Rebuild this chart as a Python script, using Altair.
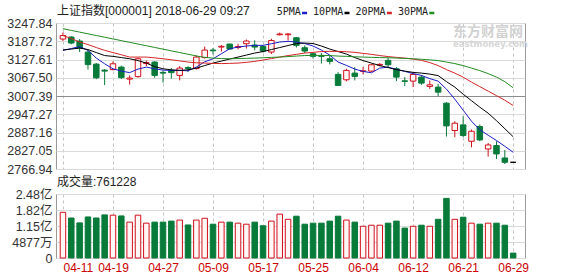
import json
import altair as alt
import pandas as pd

# ---------------- data ----------------
title_text = "上证指数[000001] 2018-06-29 09:27"
volume_caption = "成交量:761228"
watermark_cn = "东方财富网"
watermark_en = "eastmoney.com"

dates = ["04-11", "04-12", "04-13", "04-16", "04-17", "04-18", "04-19", "04-20", "04-23", "04-24",
         "04-25", "04-26", "04-27", "05-02", "05-03", "05-04", "05-07", "05-08", "05-09", "05-10",
         "05-11", "05-14", "05-15", "05-16", "05-17", "05-18", "05-21", "05-22", "05-23", "05-24",
         "05-25", "05-28", "05-29", "05-30", "05-31", "06-01", "06-04", "06-05", "06-06", "06-07",
         "06-08", "06-11", "06-12", "06-13", "06-14", "06-15", "06-19", "06-20", "06-21", "06-22",
         "06-25", "06-26", "06-27", "06-28", "06-29"]

opens = [3195.03, 3201.63, 3188.43, 3152.12, 3112.52, 3092.72, 3094.37, 3102.62, 3063.02, 3071.27,
         3114.17, 3119.12, 3085.13, 3091.07, 3075.23, 3100.97, 3097.67, 3133.97, 3158.72, 3168.63,
         3178.53, 3166.98, 3179.52, 3175.23, 3170.28, 3152.12, 3209.22, 3209.22, 3199.32, 3166.32,
         3146.51, 3139.91, 3130.01, 3078.53, 3060.71, 3082.82, 3088.43, 3089.42, 3109.22, 3124.73,
         3097.01, 3057.41, 3056.42, 3069.62, 3038.93, 3036.60, 2983.79, 2893.69, 2912.17, 2858.33,
         2906.89, 2832.96, 2844.19, 2803.26, 2789.06]
closes = [3206.58, 3181.83, 3165.33, 3110.87, 3067.31, 3089.42, 3113.51, 3067.97, 3066.32, 3130.01,
          3117.47, 3075.23, 3082.82, 3084.47, 3099.32, 3098.33, 3135.62, 3158.72, 3156.41, 3170.94,
          3162.02, 3170.28, 3188.43, 3168.63, 3155.42, 3190.08, 3211.53, 3211.53, 3174.24, 3155.42,
          3137.93, 3137.93, 3121.43, 3042.23, 3091.73, 3071.93, 3090.41, 3110.21, 3111.53, 3110.21,
          3069.62, 3055.43, 3078.53, 3049.82, 3044.21, 3020.10, 2908.87, 2917.78, 2877.19, 2891.38,
          2862.67, 2846.17, 2816.46, 2789.06, 2789.06]
highs = [3216.48, 3203.94, 3195.03, 3160.37, 3115.82, 3096.02, 3121.43, 3107.57, 3075.23, 3133.97,
         3124.07, 3122.42, 3091.07, 3099.32, 3105.92, 3105.92, 3141.23, 3170.28, 3165.33, 3175.23,
         3179.52, 3179.52, 3193.38, 3190.74, 3174.24, 3196.02, 3216.48, 3214.83, 3201.63, 3174.24,
         3152.12, 3148.82, 3141.23, 3086.12, 3097.01, 3102.62, 3102.62, 3113.51, 3115.82, 3133.31,
         3102.62, 3069.62, 3086.12, 3075.23, 3058.73, 3047.51, 2987.09, 2924.38, 2940.88, 2896.99,
         2913.49, 2852.77, 2858.33, 2829.66, 2789.06]
lows = [3188.43, 3177.54, 3152.12, 3094.37, 3063.02, 3043.22, 3091.73, 3063.02, 3044.87, 3067.97,
        3105.92, 3067.31, 3051.47, 3064.67, 3058.73, 3086.12, 3094.37, 3130.67, 3143.87, 3153.77,
        3160.37, 3161.03, 3163.68, 3157.73, 3150.47, 3145.52, 3206.58, 3190.08, 3166.98, 3148.82,
        3130.67, 3114.17, 3111.53, 3039.92, 3055.43, 3058.73, 3078.53, 3086.12, 3104.93, 3102.62,
        3056.42, 3039.92, 3036.60, 3044.21, 3031.00, 3006.90, 2873.89, 2871.58, 2871.58, 2838.57,
        2858.33, 2807.88, 2799.96, 2783.45, 2789.06]

# volume in 亿 (1e8)
volumes = [1.77, 1.55, 1.36, 1.59, 1.55, 1.67, 1.66, 1.63, 1.39, 1.66,
           1.35, 1.39, 1.39, 1.43, 1.47, 1.28, 1.47, 1.54, 1.31, 1.39,
           1.39, 1.35, 1.31, 1.39, 1.25, 1.43, 1.70, 1.50, 1.62, 1.31,
           1.35, 1.35, 1.43, 1.62, 1.47, 1.39, 1.23, 1.27, 1.27, 1.35,
           1.43, 1.16, 1.23, 1.27, 1.23, 1.50, 2.31, 1.50, 1.58, 1.35,
           1.31, 1.35, 1.35, 1.27, 0.19]

ma5 = [3157.73, 3163.67, 3170.28, 3157.73, 3132.32, 3113.51, 3097.00, 3089.41, 3084.46, 3096.01,
       3102.61, 3097.00, 3092.71, 3091.72, 3091.72, 3090.40, 3102.61, 3120.11, 3130.01, 3146.51,
       3163.01, 3168.63, 3171.93, 3174.24, 3174.24, 3179.52, 3185.13, 3187.44, 3185.13, 3180.18,
       3171.93, 3158.72, 3142.22, 3119.12, 3108.22, 3096.01, 3088.42, 3083.80, 3099.31, 3102.61,
       3095.02, 3088.42, 3081.16, 3075.22, 3064.66, 3056.41, 3030.00, 2996.99, 2960.69, 2924.38,
       2896.33, 2878.17, 2860.68, 2841.87, 2822.06]
ma10 = [3158.72, 3162.02, 3165.32, 3160.37, 3150.47, 3140.57, 3137.93, 3133.97, 3130.01, 3124.07,
        3115.82, 3104.26, 3097.00, 3093.70, 3091.72, 3093.70, 3099.31, 3107.56, 3115.82, 3122.42,
        3129.02, 3135.62, 3142.22, 3148.82, 3153.77, 3160.37, 3166.98, 3173.58, 3180.18, 3181.83,
        3180.18, 3171.93, 3162.02, 3153.77, 3145.52, 3133.97, 3124.07, 3115.82, 3107.56, 3100.96,
        3094.36, 3089.41, 3085.12, 3082.81, 3079.51, 3074.56, 3054.75, 3036.60, 3013.50, 2992.04,
        2970.59, 2950.79, 2926.03, 2899.63, 2873.22]
ma20 = [3206.58, 3196.68, 3185.13, 3176.88, 3166.98, 3157.73, 3150.47, 3143.21, 3135.62, 3135.62,
        3135.62, 3132.98, 3130.01, 3126.71, 3123.08, 3119.12, 3116.81, 3115.82, 3114.83, 3114.17,
        3114.83, 3115.82, 3118.13, 3121.43, 3125.72, 3130.67, 3135.62, 3140.57, 3144.53, 3148.82,
        3151.13, 3153.77, 3154.43, 3154.43, 3153.11, 3151.13, 3147.83, 3144.53, 3140.57, 3137.27,
        3134.63, 3132.32, 3129.02, 3124.73, 3117.47, 3107.56, 3094.36, 3082.82, 3069.61, 3053.10,
        3038.25, 3023.40, 3008.55, 2993.69, 2976.20]
ma30 = [3229.03, 3223.42, 3217.80, 3212.19, 3206.58, 3200.97, 3195.36, 3189.75, 3184.14, 3178.53,
        3172.92, 3167.31, 3161.69, 3156.08, 3150.47, 3144.86, 3139.25, 3134.63, 3132.32, 3130.67,
        3130.01, 3130.67, 3131.33, 3132.32, 3133.31, 3134.63, 3135.62, 3137.27, 3138.92, 3140.57,
        3141.23, 3141.23, 3140.57, 3138.92, 3137.93, 3136.61, 3135.62, 3134.63, 3133.97, 3133.31,
        3132.32, 3131.33, 3130.01, 3128.36, 3126.38, 3124.07, 3119.12, 3114.17, 3107.56, 3099.31,
        3091.06, 3081.16, 3069.61, 3054.75, 3034.29]

ma_names = ["5PMA", "10PMA", "20PMA", "30PMA"]
price_ticks = [2766.94, 2827.05, 2887.16, 2947.27, 3007.39, 3067.50, 3127.61, 3187.72, 3247.84]
vol_ticks = [0, 0.62, 1.24, 1.86, 2.48]
vol_tick_labels = ["0", "4877万", "1.15亿", "1.82亿", "2.48亿"]
date_tick_idx = list(range(0, 55, 6))

# ---------------- styles ----------------
FONT = "Liberation Sans, Noto Sans CJK SC, sans-serif"
MONO = "DejaVu Sans Mono, monospace"
UP = "#d0101c"
DOWN = "#087a3a"
FLAT = "#000000"
HOLLOW = "#fff6f6"
ma_colors = ["#1c1cc8", "#000000", "#d42626", "#238b23"]
W, H_PRICE, H_VOL = 469, 146, 64

# ---------------- tables ----------------
crow = []
for i, (o, h, l, c) in enumerate(zip(opens, highs, lows, closes)):
    if c > o:
        s, f = UP, HOLLOW
    elif c < o:
        s, f = DOWN, DOWN
    else:
        s, f = FLAT, FLAT
    crow.append(dict(idx=i, open=o, high=h, low=l, close=c, strokec=s, fillc=f))
candles = pd.DataFrame(crow)

vrow = []
for i, (o, c, v) in enumerate(zip(opens, closes, volumes)):
    up = c > o
    vrow.append(dict(idx=i, vol=v, strokec=UP if up else DOWN, fillc=HOLLOW if up else DOWN))
vol_df = pd.DataFrame(vrow)

mrow = []
for name, col, vals in zip(ma_names, ma_colors, [ma5, ma10, ma20, ma30]):
    for i, v in enumerate(vals):
        mrow.append(dict(idx=i, value=v, series=name, col=col))
ma_df = pd.DataFrame(mrow)

one = pd.DataFrame({"k": [0]})

# ---------------- scales / axes ----------------
xs = alt.Scale(domain=[-0.235, 54.82], nice=False, zero=False)
ys = alt.Scale(domain=[price_ticks[0], price_ticks[-1]], nice=False, zero=False)
vs = alt.Scale(domain=[0, vol_ticks[-1]], nice=False, zero=True)

x_top_axis = alt.Axis(values=date_tick_idx, labels=False, ticks=False, domain=False, grid=True,
                      gridDash=[3, 3], gridColor="#c4c4c4", title=None)
x_bot_axis = alt.Axis(values=date_tick_idx,
                      labelExpr=json.dumps(dates) + "[datum.value]",
                      labelColor="#cc0000", labelFontSize=12, labelPadding=4,
                      labelFlush=False, labelOverlap=False,
                      labelAlign=alt.condition("datum.value == 0", alt.value("left"), alt.value("center")),
                      ticks=False, domain=False, grid=True, gridDash=[3, 3], gridColor="#c4c4c4",
                      title=None)
y_price_axis = alt.Axis(values=price_ticks, format=".2f", ticks=False, domain=False, grid=True,
                        gridColor=alt.condition("datum.value == 3007.39", alt.value("#8c8c8c"), alt.value("#dadada")),
                        labelPadding=4, labelOverlap=False, title=None)
vol_expr = ("indexof(" + json.dumps(vol_ticks) + ", datum.value) >= 0 ? " + json.dumps(vol_tick_labels, ensure_ascii=False)
            + "[indexof(" + json.dumps(vol_ticks) + ", datum.value)] : ''")
y_vol_axis = alt.Axis(values=vol_ticks, labelExpr=vol_expr, ticks=False, domain=False, grid=True,
                      gridColor="#dadada", labelPadding=4, labelOverlap=False, title=None)

X_TOP = alt.X("idx:Q", scale=xs, axis=x_top_axis)
X_BOT = alt.X("idx:Q", scale=xs, axis=x_bot_axis)

# ---------------- price panel ----------------
wicks = alt.Chart(candles).mark_rule(strokeWidth=1).encode(
    x=X_TOP,
    y=alt.Y("low:Q", scale=ys, axis=y_price_axis),
    y2="high:Q",
    stroke=alt.Stroke("strokec:N", scale=None),
)
bodies = alt.Chart(candles).mark_bar(size=5.5, strokeWidth=1).encode(
    x=X_TOP,
    y=alt.Y("open:Q", scale=ys, axis=y_price_axis),
    y2="close:Q",
    stroke=alt.Stroke("strokec:N", scale=None),
    fill=alt.Fill("fillc:N", scale=None),
)
lines = alt.Chart(ma_df).mark_line(strokeWidth=1, interpolate="linear").encode(
    x=X_TOP,
    y=alt.Y("value:Q", scale=ys, axis=y_price_axis),
    detail="series:N",
    stroke=alt.Stroke("col:N", scale=None),
)

title_t = alt.Chart(one).mark_text(align="left", baseline="middle", font=FONT, fontSize=12,
                                   color="#222222").encode(
    x=alt.value(1), y=alt.value(-12), text=alt.value(title_text))

legend_layers = []
lx = 220.7
for name, col in zip(ma_names, ma_colors):
    legend_layers.append(
        alt.Chart(one).mark_text(align="left", baseline="middle", font=MONO, fontSize=10,
                                 color="#222222").encode(
            x=alt.value(lx), y=alt.value(-11.5), text=alt.value(name)))
    d0 = lx + len(name) * 6.02 + 1.3
    legend_layers.append(
        alt.Chart(one).mark_rule(strokeWidth=2.5, color=col).encode(
            x=alt.value(d0), x2=alt.value(d0 + 5), y=alt.value(-10)))
    lx = d0 + 5 + 6

wm1 = alt.Chart(one).mark_text(align="left", baseline="middle", font="Noto Sans CJK SC", fontSize=14,
                               fontWeight="bold", color="#d2d2d2").encode(
    x=alt.value(397), y=alt.value(9), text=alt.value(watermark_cn))
wm2 = alt.Chart(one).mark_text(align="left", baseline="middle", font="DejaVu Sans", fontSize=8.5,
                               fontWeight="bold", color="#d6d6d6").encode(
    x=alt.value(397), y=alt.value(20.5), text=alt.value(watermark_en))

price = alt.layer(wicks, bodies, lines, title_t, *legend_layers, wm1, wm2).properties(
    width=W, height=H_PRICE)

# ---------------- volume panel ----------------
vbars = alt.Chart(vol_df).mark_bar(size=5.5, strokeWidth=1).encode(
    x=X_BOT,
    y=alt.Y("vol:Q", scale=vs, axis=y_vol_axis),
    stroke=alt.Stroke("strokec:N", scale=None),
    fill=alt.Fill("fillc:N", scale=None),
)
cap = alt.Chart(one).mark_text(align="left", baseline="middle", font=FONT, fontSize=12,
                               color="#222222").encode(
    x=alt.value(1), y=alt.value(-12), text=alt.value(volume_caption))

volume = alt.layer(vbars, cap).properties(width=W, height=H_VOL)

chart = alt.vconcat(price, volume, spacing=25, bounds="flush").resolve_scale(
    y="independent"
).properties(
    padding={"left": 6, "top": 4, "right": 4, "bottom": 2},
    background="white",
).configure_view(
    stroke="#9a9a9a", strokeWidth=1
).configure_axis(
    labelFont=FONT, labelFontSize=12.5, labelColor="#333333"
)

chart.save("out.html", embed_options={"renderer": "svg", "actions": False})
